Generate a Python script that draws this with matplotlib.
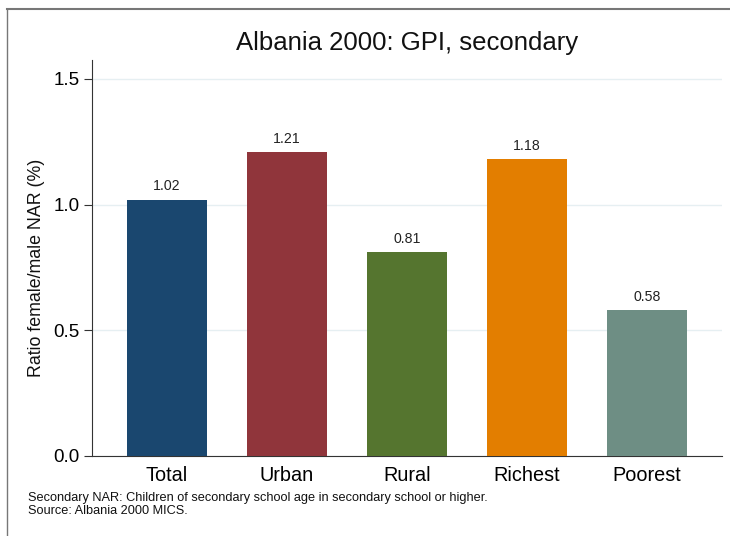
import matplotlib
matplotlib.use("Agg")
import matplotlib.pyplot as plt
from matplotlib.lines import Line2D

categories = ["Total", "Urban", "Rural", "Richest", "Poorest"]
values = [1.02, 1.21, 0.81, 1.18, 0.58]
value_labels = ["1.02", "1.21", "0.81", "1.18", "0.58"]
colors = ["#1a476f", "#90353b", "#55752f", "#e37e00", "#6e8e84"]
yticks = [0.0, 0.5, 1.0, 1.5]
ytick_labels = ["0.0", "0.5", "1.0", "1.5"]

plt.rcParams['font.family'] = ['Liberation Sans', 'DejaVu Sans']

W, H = 730, 536
fig = plt.figure(figsize=(W / 100, H / 100), dpi=100)
fig.patch.set_facecolor("white")

ax = fig.add_axes([92 / W, (H - 456) / H, (722 - 92) / W, (456 - 60) / H])
x = list(range(len(categories)))
ax.bar(x, values, width=0.667, color=colors, zorder=3)
for xi, v, lab in zip(x, values, value_labels):
    ax.annotate(lab, (xi, v), xytext=(0, 4.5), textcoords="offset points",
                ha="center", va="bottom", fontsize=10.2, color="#222222")

ax.set_xlim(-0.625, 4.625)
ax.set_ylim(0, 1.575)
ax.set_yticks(yticks)
ax.set_yticklabels(ytick_labels, fontsize=13.5)
ax.set_xticks(x)
ax.set_xticklabels(categories, fontsize=14.3)
ax.tick_params(axis="x", length=0, pad=7)
ax.tick_params(axis="y", length=6, width=0.8, pad=3, color="#333333")
ax.yaxis.grid(True, color="#e6eff2", linewidth=1.0, zorder=0)
ax.set_axisbelow(True)
for s in ["top", "right"]:
    ax.spines[s].set_visible(False)
ax.spines["left"].set_color("#333333")
ax.spines["bottom"].set_color("#333333")
ax.spines["left"].set_linewidth(0.8)
ax.spines["bottom"].set_linewidth(0.8)

fig.text(36.5 / W, 1 - 267.5 / H, "Ratio female/male NAR (%)", rotation=90,
         ha="center", va="center", fontsize=12.8, color="#111111")

fig.text(407 / W, 1 - 43 / H, "Albania 2000: GPI, secondary", ha="center", va="center",
         fontsize=18.5, color="#111111")
fig.text(28 / W, 1 - 498.5 / H,
         "Secondary NAR: Children of secondary school age in secondary school or higher.",
         ha="left", va="center", fontsize=9.2, color="#111111")
fig.text(28 / W, 1 - 511 / H, "Source: Albania 2000 MICS.",
         ha="left", va="center", fontsize=9.2, color="#111111")

# outer frame (top and left edges visible)
fig.add_artist(Line2D([6.5 / W, 1], [1 - 8.8 / H, 1 - 8.8 / H], transform=fig.transFigure,
                      color="#777777", linewidth=1.5))
fig.add_artist(Line2D([6.5 / W, 6.5 / W], [0, 1 - 8.8 / H], transform=fig.transFigure,
                      color="#777777", linewidth=1.0))

fig.savefig("out.png", dpi=100)
